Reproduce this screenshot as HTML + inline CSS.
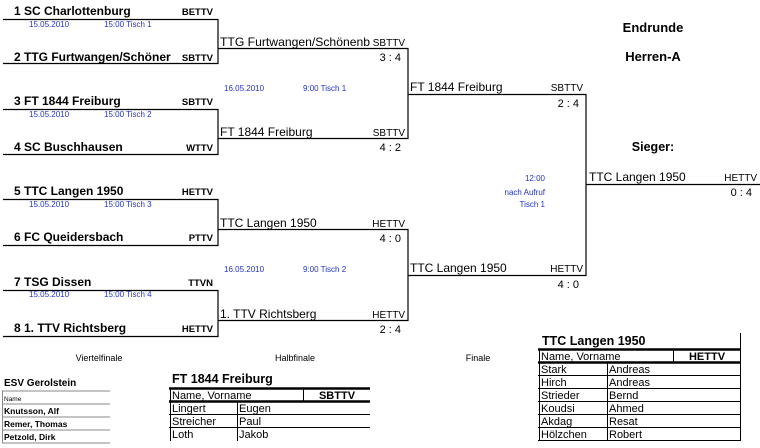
<!DOCTYPE html>
<html><head><meta charset="utf-8"><style>
body{margin:0;background:#fff;width:760px;height:448px;overflow:hidden}
svg{display:block}
text{font-family:"Liberation Sans",sans-serif}
.b{font-weight:bold;font-size:12px}
.s{font-size:9.5px;font-weight:bold}
.bl{font-size:8px;fill:#2233cc}
.t{font-size:12px}
</style></head><body>
<svg width="760" height="448" viewBox="0 0 760 448">
<g stroke="#000" stroke-width="1.2" fill="none">
<path d="M3 19.5H218V63.5H3M3 109.5H218V154.5H3M3 199.5H218V245.5H3M3 290.5H218V336.5H3"/>
<path d="M218 48.5H408V138.5H218M218 229.5H408V320.5H218"/>
<path d="M408 94.5H586V275.5H408M586 184.5H760"/>
</g>
<text x="14" y="15" class="b">1 SC Charlottenburg</text><text x="213" y="15" class="s" text-anchor="end">BETTV</text>
<text x="14" y="61" class="b">2 TTG Furtwangen/Schöner</text><text x="213" y="61" class="s" text-anchor="end">SBTTV</text>
<text x="14" y="105" class="b">3 FT 1844 Freiburg</text><text x="213" y="105" class="s" text-anchor="end">SBTTV</text>
<text x="14" y="151" class="b">4 SC Buschhausen</text><text x="213" y="151" class="s" text-anchor="end">WTTV</text>
<text x="14" y="195" class="b">5 TTC Langen 1950</text><text x="213" y="195" class="s" text-anchor="end">HETTV</text>
<text x="14" y="241" class="b">6 FC Queidersbach</text><text x="213" y="241" class="s" text-anchor="end">PTTV</text>
<text x="14" y="286" class="b">7 TSG Dissen</text><text x="213" y="286" class="s" text-anchor="end">TTVN</text>
<text x="14" y="332" class="b">8 1. TTV Richtsberg</text><text x="213" y="332" class="s" text-anchor="end">HETTV</text>
<g class="bl">
<text x="29" y="27">15.05.2010</text><text x="104" y="27">15:00 Tisch 1</text>
<text x="29" y="117">15.05.2010</text><text x="104" y="117">15:00 Tisch 2</text>
<text x="29" y="207">15.05.2010</text><text x="104" y="207">15:00 Tisch 3</text>
<text x="29" y="297">15.05.2010</text><text x="104" y="297">15:00 Tisch 4</text>
<text x="224" y="91">16.05.2010</text><text x="303" y="91">9:00 Tisch 1</text>
<text x="224" y="272">16.05.2010</text><text x="303" y="272">9:00 Tisch 2</text>
<text x="545" y="181" text-anchor="end">12:00</text>
<text x="545" y="195" text-anchor="end">nach Aufruf</text>
<text x="545" y="207" text-anchor="end">Tisch 1</text>
</g>
<g class="t">
<text x="220" y="46" textLength="150" lengthAdjust="spacingAndGlyphs">TTG Furtwangen/Schönenb</text><text x="220" y="136">FT 1844 Freiburg</text>
<text x="220" y="227">TTC Langen 1950</text><text x="220" y="318">1. TTV Richtsberg</text>
<text x="410" y="91">FT 1844 Freiburg</text><text x="410" y="272">TTC Langen 1950</text>
<text x="589" y="181">TTC Langen 1950</text>
</g>
<g font-size="10px" text-anchor="end">
<text x="405" y="46">SBTTV</text><text x="405" y="136">SBTTV</text><text x="405" y="227">HETTV</text><text x="405" y="318">HETTV</text>
<text x="583" y="91">SBTTV</text><text x="583" y="272">HETTV</text><text x="757" y="181">HETTV</text>
</g>
<g font-size="11px" text-anchor="end">
<text x="401" y="61">3 : 4</text><text x="401" y="151">4 : 2</text><text x="401" y="242">4 : 0</text><text x="401" y="333">2 : 4</text>
<text x="579" y="107">2 : 4</text><text x="579" y="288">4 : 0</text><text x="752" y="196">0 : 4</text>
</g>
<text x="653" y="32" font-size="13px" font-weight="bold" text-anchor="middle">Endrunde</text>
<text x="653" y="61" font-size="13px" font-weight="bold" text-anchor="middle">Herren-A</text>
<text x="653" y="151" font-size="12.5px" font-weight="bold" text-anchor="middle">Sieger:</text>
<g font-size="9px" text-anchor="middle">
<text x="99" y="361">Viertelfinale</text><text x="295" y="361">Halbfinale</text><text x="478" y="361">Finale</text>
</g>
<text x="4" y="386" font-size="10px" font-weight="bold">ESV Gerolstein</text>
<g stroke="#888" stroke-width="1" fill="none"><path d="M2 391H110M2 404H110M2 417H110M2 430H110M2 443H110M2.5 391V443"/></g>
<text x="4" y="401" font-size="6.5px">Name</text>
<g font-size="8.5px" font-weight="bold"><text x="4" y="414">Knutsson, Alf</text><text x="4" y="427">Remer, Thomas</text><text x="4" y="440">Petzold, Dirk</text></g>
<text x="172" y="383" font-size="12.5px" font-weight="bold">FT 1844 Freiburg</text>
<g stroke="#000" fill="none">
<path d="M169 388.5H370M169 401.5H370" stroke-width="2.5"/>
<path d="M169 414.5H370M169 427.5H370M170.5 388V441M237.5 402V441M303.5 389V401" stroke-width="1"/>
</g>
<g font-size="11px"><text x="172" y="399">Name, Vorname</text><text x="172" y="412">Lingert</text><text x="172" y="425">Streicher</text><text x="172" y="438">Loth</text>
<text x="239" y="412">Eugen</text><text x="239" y="425">Paul</text><text x="239" y="438">Jakob</text></g>
<text x="337" y="399" font-size="11px" font-weight="bold" text-anchor="middle">SBTTV</text>
<text x="542" y="345" font-size="12.5px" font-weight="bold">TTC Langen 1950</text>
<g stroke="#000" fill="none">
<path d="M538 349.5H740M538 362.5H740" stroke-width="2.5"/>
<path d="M538 375.5H740M538 388.5H740M538 401.5H740M538 414.5H740M538 427.5H740M538 440.5H740M539.5 349V441M607.5 363V441M673.5 350V362M740.5 333V441" stroke-width="1"/>
</g>
<g font-size="11px"><text x="541" y="360">Name, Vorname</text>
<text x="541" y="373">Stark</text><text x="541" y="386">Hirch</text><text x="541" y="399">Strieder</text><text x="541" y="412">Koudsi</text><text x="541" y="425">Akdag</text><text x="541" y="438">Hölzchen</text>
<text x="609" y="373">Andreas</text><text x="609" y="386">Andreas</text><text x="609" y="399">Bernd</text><text x="609" y="412">Ahmed</text><text x="609" y="425">Resat</text><text x="609" y="438">Robert</text></g>
<text x="707" y="360" font-size="11px" font-weight="bold" text-anchor="middle">HETTV</text>
</svg>
</body></html>
